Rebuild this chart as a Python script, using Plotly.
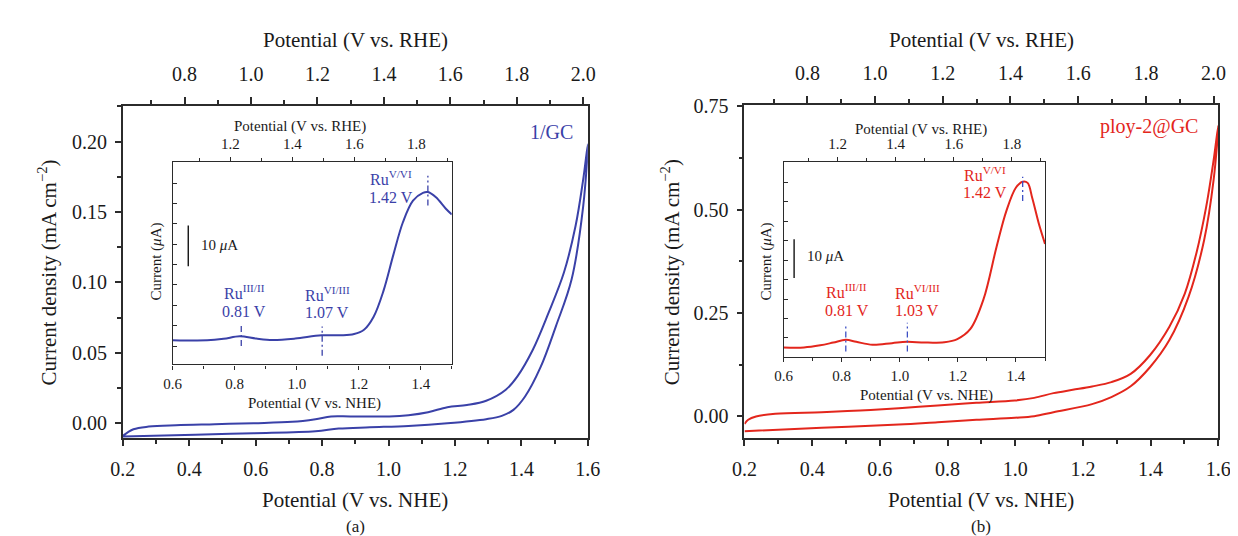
import plotly.graph_objects as go

W, H = 1238, 536
BLUE = "#3a41a8"
RED = "#e3261c"
MARK = "#3d4fc4"
AXC = "#2b2b2b"
FONT = "Liberation Serif"
RHE_OFFSET = 0.414  # V vs RHE = V vs NHE + offset

# ---- panel (a): 1/GC, main CV (V vs NHE, mA cm-2)
a_fwd_v = [0.2, 0.232, 0.278, 0.36, 0.477, 0.594, 0.71, 0.78, 0.827, 0.885, 1.002, 1.06, 1.119,
           1.177, 1.236, 1.294, 1.353, 1.388, 1.434, 1.481, 1.528, 1.563, 1.586, 1.6]
a_fwd_j = [-0.009, -0.0043, -0.0024, -0.0014, -0.0007, 0.0, 0.001, 0.0029, 0.0048, 0.0048, 0.0048,
           0.0057, 0.0078, 0.0114, 0.013, 0.016, 0.0238, 0.0333, 0.052, 0.078, 0.107, 0.140, 0.173, 0.198]
a_rev_v = [1.586, 1.551, 1.504, 1.458, 1.411, 1.376, 1.341, 1.294, 1.177, 1.06, 0.944, 0.85, 0.78,
           0.594, 0.418, 0.2]
a_rev_j = [0.154, 0.102, 0.069, 0.040, 0.019, 0.0095, 0.0052, 0.0029, 0.0, -0.0019, -0.0029,
           -0.0038, -0.0057, -0.0071, -0.0081, -0.0095]

# ---- panel (a) inset: DPV (V vs NHE, uA)
ai_v = [0.6, 0.711, 0.764, 0.816, 0.869, 0.922, 0.995, 1.08, 1.143, 1.185, 1.217, 1.248, 1.28,
        1.312, 1.343, 1.375, 1.407, 1.423, 1.449, 1.481, 1.5]
ai_i = [1.45, 1.4, 1.77, 2.4, 1.85, 1.5, 1.85, 2.65, 2.65, 2.96, 4.0, 7.2, 13.6, 22.5, 30.5,
        35.7, 37.6, 37.8, 36.5, 33.7, 32.3]

# ---- panel (b): ploy-2@GC, main CV
b_fwd_v = [0.2, 0.211, 0.234, 0.291, 0.428, 0.542, 0.656, 0.771, 0.885, 0.999, 1.056, 1.113, 1.17,
           1.227, 1.284, 1.341, 1.398, 1.455, 1.501, 1.535, 1.564, 1.586, 1.6]
b_fwd_j = [-0.018, -0.008, 0.0, 0.0065, 0.0105, 0.0145, 0.020, 0.0266, 0.033, 0.0387, 0.045, 0.0565,
           0.0645, 0.0726, 0.083, 0.103, 0.148, 0.216, 0.297, 0.394, 0.506, 0.619, 0.704]
b_rev_v = [1.586, 1.558, 1.512, 1.455, 1.398, 1.341, 1.284, 1.227, 1.113, 1.056, 0.999, 0.885,
           0.771, 0.656, 0.428, 0.2]
b_rev_j = [0.571, 0.426, 0.289, 0.184, 0.119, 0.073, 0.047, 0.030, 0.0105, 0.0008, -0.0032,
           -0.008, -0.0137, -0.0194, -0.0274, -0.0355]

# ---- panel (b) inset
bi_v = [0.6, 0.67, 0.726, 0.771, 0.814, 0.85, 0.906, 0.973, 1.024, 1.086, 1.153, 1.198, 1.243,
        1.288, 1.333, 1.367, 1.4, 1.423, 1.44, 1.456, 1.479, 1.5]
bi_i = [-2.45, -2.45, -1.9, -1.2, -0.5, -1.0, -1.77, -1.35, -1.0, -1.2, -1.1, -0.3, 2.3, 9.9,
        23.4, 32.7, 38.7, 40.2, 39.9, 36.0, 29.3, 24.2]

# peak markers: potential, lower, upper (uA)
a_peaks = [(0.821, 0.0, 5.2), (1.082, -2.4, 4.8), (1.423, 34.5, 41.8)]
b_peaks = [(0.814, -3.5, 3.4), (1.026, -3.5, 3.9), (1.423, 35.2, 41.5)]
a_peak_labels = [("III/II", "0.81 V", 0.831, 13.3, 8.4), ("VI/III", "1.07 V", 1.099, 12.8, 8.3),
                 ("V/VI", "1.42 V", 1.305, 41.3, 36.5)]
b_peak_labels = [("III/II", "0.81 V", 0.818, 12.0, 7.0), ("VI/III", "1.03 V", 1.06, 11.8, 7.0),
                 ("V/VI", "1.42 V", 1.293, 42.3, 37.3)]
a_scalebar = (0.65, 19.6, 29.6)
b_scalebar = (0.636, 15.4, 25.4)


def dx(a, b):
    return [a / W, b / W]


def dy(top, bottom):
    return [1 - bottom / H, 1 - top / H]


def rhe(vals):
    return [v + RHE_OFFSET for v in vals]


fig = go.Figure()


def curve(x, y, xa, ya, color):
    fig.add_trace(go.Scatter(x=x, y=y, xaxis=xa, yaxis=ya, mode="lines",
                             line=dict(color=color, width=2, shape="spline"),
                             showlegend=False, hoverinfo="skip"))


def ghost(x, y, xa, ya):
    # same data on the RHE (top) axis, invisible, so the overlaid axis gets drawn
    fig.add_trace(go.Scatter(x=x, y=y, xaxis=xa, yaxis=ya, mode="lines",
                             line=dict(width=0), opacity=0, showlegend=False, hoverinfo="skip"))


curve(a_fwd_v + a_rev_v, a_fwd_j + a_rev_j, "x", "y", BLUE)
ghost(rhe(a_fwd_v + a_rev_v), a_fwd_j + a_rev_j, "x2", "y")
curve(ai_v, ai_i, "x3", "y2", BLUE)
ghost(rhe(ai_v), ai_i, "x4", "y2")
curve(b_fwd_v + b_rev_v, b_fwd_j + b_rev_j, "x5", "y3", RED)
ghost(rhe(b_fwd_v + b_rev_v), b_fwd_j + b_rev_j, "x6", "y3")
curve(bi_v, bi_i, "x7", "y4", RED)
ghost(rhe(bi_v), bi_i, "x8", "y4")

for peaks, xa, ya, col in [(a_peaks, "x3", "y2", BLUE), (b_peaks, "x7", "y4", MARK)]:
    for v, lo, hi in peaks:
        fig.add_trace(go.Scatter(x=[v, v], y=[lo, hi], xaxis=xa, yaxis=ya, mode="lines",
                                 line=dict(color=col, width=1.3, dash="6px,3px,2px,3px"),
                                 showlegend=False, hoverinfo="skip"))

for (v, lo, hi), xa, ya in [(a_scalebar, "x3", "y2"), (b_scalebar, "x7", "y4")]:
    fig.add_trace(go.Scatter(x=[v, v], y=[lo, hi], xaxis=xa, yaxis=ya, mode="lines",
                             line=dict(color="black", width=1.3), showlegend=False, hoverinfo="skip"))

tickfont = dict(family=FONT, size=20, color="#1a1a1a")
insetfont = dict(family=FONT, size=15, color="#1a1a1a")
minor_out = dict(ticks="outside", ticklen=4, tickcolor=AXC)
minor_in = dict(ticks="outside", ticklen=3, tickcolor=AXC)


def axis(**kw):
    base = dict(showline=True, linecolor=AXC, linewidth=1.8, showgrid=False, zeroline=False,
                ticks="outside", tickcolor=AXC, tickwidth=1.5, ticklen=7, tickfont=tickfont)
    base.update(kw)
    return base


def inset_axis(**kw):
    base = dict(showline=True, linecolor=AXC, linewidth=1.3, showgrid=False, zeroline=False,
                ticks="outside", tickcolor=AXC, tickwidth=1.1, ticklen=4, tickfont=insetfont)
    base.update(kw)
    return base


ma_x, ma_y = dx(104, 579), dy(90, 428)
mb_x, mb_y = dx(739, 1223), dy(89, 428)
ia_x, ia_y = dx(155, 440), dy(147, 353)
ib_x, ib_y = dx(779, 1046), dy(147, 345)

fig.update_layout(
    width=W, height=H, autosize=False,
    margin=dict(l=0, r=0, t=0, b=0),
    paper_bgcolor="white", plot_bgcolor="white",
    # panel a main
    xaxis=axis(domain=ma_x, anchor="y", range=[0.2, 1.6], dtick=0.2, tick0=0, tickformat=".1f",
               minor=dict(dtick=0.1, **minor_out), ticklen=6, ticklabelstandoff=6),
    xaxis2=axis(domain=ma_x, anchor="y", overlaying="x", side="top",
                range=[0.2 + RHE_OFFSET, 1.6 + RHE_OFFSET], dtick=0.2, tick0=0, tickformat=".1f",
                minor=dict(dtick=0.1, **minor_out), ticklabelstandoff=8),
    yaxis=axis(domain=ma_y, anchor="x", range=[-0.0105, 0.225], dtick=0.05, tick0=0,
               tickformat=".2f", mirror=True, ticklen=6,
               minor=dict(dtick=0.025, **minor_out), ticklabelstandoff=4),
    # panel a inset
    xaxis3=inset_axis(domain=ia_x, anchor="y2", range=[0.6, 1.5], dtick=0.2, tick0=0.6,
                      tickformat=".1f", minor=dict(dtick=0.1, **minor_in), ticklabelstandoff=1),
    xaxis4=inset_axis(domain=ia_x, anchor="y2", overlaying="x3", side="top",
                      range=[0.6 + RHE_OFFSET, 1.5 + RHE_OFFSET], dtick=0.2, tick0=0, tickformat=".1f",
                      minor=dict(dtick=0.1, **minor_in), ticklabelstandoff=2),
    yaxis2=inset_axis(domain=ia_y, anchor="x3", range=[-4.5, 45.1], dtick=5, tick0=0,
                      ticks="inside", showticklabels=False, mirror=True),
    # panel b main
    xaxis5=axis(domain=mb_x, anchor="y3", range=[0.2, 1.6], dtick=0.2, tick0=0, tickformat=".1f",
                minor=dict(dtick=0.1, **minor_out), ticklen=6, ticklabelstandoff=6),
    xaxis6=axis(domain=mb_x, anchor="y3", overlaying="x5", side="top",
                range=[0.2 + RHE_OFFSET, 1.6 + RHE_OFFSET], dtick=0.2, tick0=0, tickformat=".1f",
                minor=dict(dtick=0.1, **minor_out), ticklabelstandoff=8),
    yaxis3=axis(domain=mb_y, anchor="x5", range=[-0.052, 0.752], dtick=0.25, tick0=0,
                tickformat=".2f", mirror=True, ticklen=6,
                minor=dict(dtick=0.125, **minor_out), ticklabelstandoff=4),
    # panel b inset
    xaxis7=inset_axis(domain=ib_x, anchor="y4", range=[0.6, 1.5], dtick=0.2, tick0=0.6,
                      tickformat=".1f", minor=dict(dtick=0.1, **minor_in), ticklabelstandoff=1),
    xaxis8=inset_axis(domain=ib_x, anchor="y4", overlaying="x7", side="top",
                      range=[0.6 + RHE_OFFSET, 1.5 + RHE_OFFSET], dtick=0.2, tick0=0, tickformat=".1f",
                      minor=dict(dtick=0.1, **minor_in), ticklabelstandoff=2),
    yaxis4=inset_axis(domain=ib_y, anchor="x7", range=[-4.8, 45.2], dtick=5, tick0=0,
                      ticks="inside", showticklabels=False, mirror=True),
)

anns = []


def paper_text(text, x, y, size, color="#1a1a1a", angle=0):
    anns.append(dict(text=text, x=x / W, y=1 - y / H, xref="paper", yref="paper",
                     showarrow=False, textangle=angle, xanchor="center", yanchor="middle",
                     font=dict(family=FONT, size=size, color=color)))


# main titles
for cx, ylab_x, lab in [(341.5, 27, "(a)"), (981, 663, "(b)")]:
    paper_text("Potential (V vs. RHE)", cx, 22, 21)
    paper_text("Potential (V vs. NHE)", cx, 491, 21)
    paper_text(lab, cx, 518, 17)
    paper_text("Current density (mA cm<sup>−2</sup>)", ylab_x, 259, 21, angle=-90)

paper_text("1/GC", 542, 116, 20, BLUE)
paper_text("ploy-2@GC", 1152, 111, 20, RED)

# inset titles
paper_text("Potential (V vs. RHE)", 285, 111, 15)
paper_text("Potential (V vs. NHE)", 300, 393, 15)
paper_text("Current (<i>μ</i>A)", 138, 248, 15, angle=-90)
paper_text("Potential (V vs. RHE)", 919, 114, 15)
paper_text("Potential (V vs. NHE)", 925, 385, 15)
paper_text("Current (<i>μ</i>A)", 761, 248, 15, angle=-90)


def data_text(text, x, y, xa, ya, size, color, anchor="center"):
    anns.append(dict(text=text, x=x, y=y, xref=xa, yref=ya, showarrow=False,
                     xanchor=anchor, yanchor="middle", font=dict(family=FONT, size=size, color=color)))


for labels, xa, ya, col in [(a_peak_labels, "x3", "y2", BLUE), (b_peak_labels, "x7", "y4", RED)]:
    for sup, val, v, y1, y2 in labels:
        data_text("Ru<sup>" + sup + "</sup>", v, y1, xa, ya, 16, col)
        data_text(val, v, y2, xa, ya, 16, col)

data_text("10 <i>μ</i>A", 0.685, 24.9, "x3", "y2", 15, "#1a1a1a", "left")
data_text("10 <i>μ</i>A", 0.673, 21.0, "x7", "y4", 15, "#1a1a1a", "left")

fig.update_layout(annotations=anns)

fig.write_html("out.html")
